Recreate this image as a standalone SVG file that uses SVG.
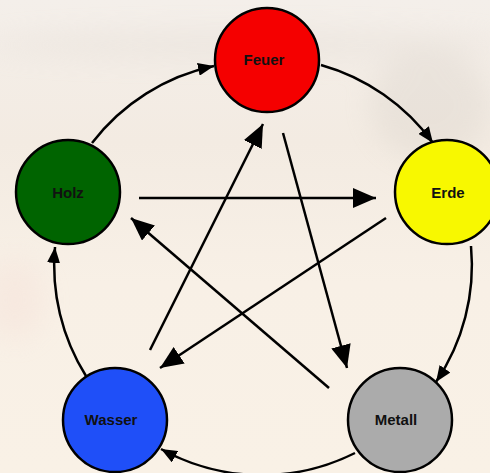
<svg xmlns="http://www.w3.org/2000/svg" width="490" height="473" viewBox="0 0 490 473">
<defs>
<linearGradient id="bg" x1="0" y1="0" x2="0" y2="1">
<stop offset="0" stop-color="#f4efea"/>
<stop offset="0.3" stop-color="#f3ebe2"/>
<stop offset="0.6" stop-color="#f8f0e6"/>
<stop offset="1" stop-color="#f9f1e6"/>
</linearGradient>
<filter id="blur" x="-50%" y="-50%" width="200%" height="200%"><feGaussianBlur stdDeviation="14"/></filter>
<marker id="sm" markerUnits="userSpaceOnUse" markerWidth="17" markerHeight="13" refX="16" refY="6.5" orient="auto"><path d="M0,0 L16,6.5 L0,13 z" fill="#000"/></marker>
<marker id="lg" markerUnits="userSpaceOnUse" markerWidth="24" markerHeight="20" refX="23" refY="10" orient="auto"><path d="M0,0 L23,10 L0,20 z" fill="#000"/></marker>
<style>
.node circle{stroke:#000;stroke-width:2.5}
.node text{font-family:"Liberation Sans",Arial,sans-serif;font-weight:bold;font-size:15px;text-anchor:middle;fill:#111}
#connectors path,#connectors line{fill:none;stroke:#000;stroke-width:2.5}
.arc{marker-end:url(#sm)}
.star{marker-end:url(#lg)}
</style>
</defs>
<rect width="490" height="473" fill="url(#bg)"/>
<g filter="url(#blur)" opacity="0.35">
<ellipse cx="245" cy="45" rx="260" ry="14" fill="#e0d9d2"/>
<ellipse cx="430" cy="105" rx="60" ry="55" fill="#d8d1c9"/>
<ellipse cx="15" cy="300" rx="30" ry="40" fill="#f4dcd4"/>
</g>
<g id="connectors">
<path class="arc" d="M92,143 A208,208 0 0 1 214,66"/>
<path class="arc" d="M321,65 A208,208 0 0 1 433,143"/>
<path class="arc" d="M471,246 A208,208 0 0 1 436,382"/>
<path class="arc" d="M355,453 A208,208 0 0 1 161,449"/>
<path class="arc" d="M86,376 A208,208 0 0 1 55,247"/>
<line class="star" x1="139" y1="198" x2="376" y2="198"/>
<line class="star" x1="386" y1="218" x2="160" y2="368"/>
<line class="star" x1="150" y1="350" x2="263" y2="124"/>
<line class="star" x1="283" y1="133" x2="347" y2="368"/>
<line class="star" x1="329" y1="388" x2="131" y2="218"/>
</g>
<g id="feuer" class="node"><circle cx="267" cy="60" r="52" fill="#f50000"/><text x="264" y="65">Feuer</text></g>
<g id="holz" class="node"><circle cx="68" cy="192" r="52" fill="#006400"/><text x="68" y="198">Holz</text></g>
<g id="erde" class="node"><circle cx="447" cy="192" r="52" fill="#f8f800"/><text x="448" y="198">Erde</text></g>
<g id="wasser" class="node"><circle cx="115" cy="420" r="52" fill="#1f4ff8"/><text x="111" y="425">Wasser</text></g>
<g id="metall" class="node"><circle cx="400" cy="420" r="52" fill="#ababab"/><text x="396" y="425">Metall</text></g>
</svg>
